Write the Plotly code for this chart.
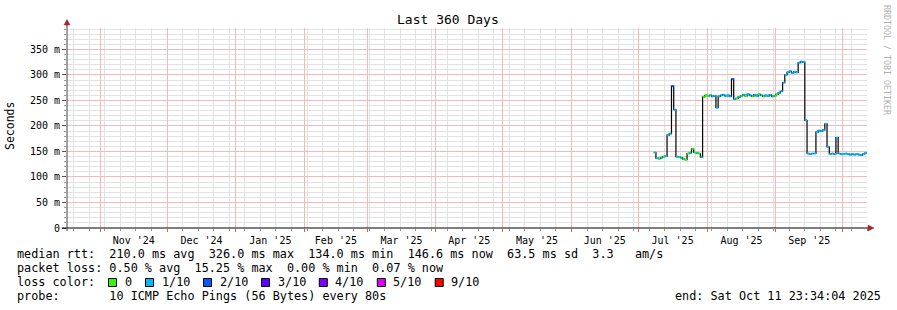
import datetime as dt
import plotly.graph_objects as go

# ---------------- data (median RTT in ms, daily, starting 2025-07-08) -------------
series_start = "2025-07-08"
jul_rtt = [148, 137, 136, 138, 140, 141, 182, 185, 278, 232, 140, 139, 138, 135, 134, 146,
           147, 155, 148, 147, 146, 139, 257, 260]
aug_rtt = [259, 260, 258, 259, 236, 258, 260, 261, 259, 260, 258, 292, 253, 254, 257, 259,
           261, 259, 262, 260, 258, 261, 259, 262, 260, 258, 260, 259, 261, 258, 259]
sep_rtt = [262, 265, 268, 285, 300, 305, 307, 304, 306, 305, 324, 326, 325, 211, 146, 145,
           146, 146, 188, 191, 190, 192, 204, 159, 145, 146, 145, 177, 146, 145]
oct_rtt = [145, 146, 145, 144, 145, 144, 145, 144, 143, 145, 147]

# loss class index per day (0 -> 0 loss, 1 -> 1/10, 2 -> 2/10 ...)
jul_loss = [1, 1, 0, 1, 0, 1, 1, 1, 2, 1, 1, 0, 1, 0, 0, 0, 1, 0, 0, 1, 0, 1, 0, 0]
aug_loss = [0, 1, 1, 1, 1, 1, 1, 1, 1, 1, 1, 2, 1, 0, 1, 0, 1, 0, 1, 1, 0, 1, 1, 0, 1, 0,
            1, 1, 1, 1, 0]
sep_loss = [0] + [1] * 29
oct_loss = [1] * 11

loss_labels = ["0", "1/10", "2/10", "3/10", "4/10", "5/10", "9/10"]
loss_colors = ["#26ff00", "#00b8ff", "#0059ff", "#5e00ff", "#7e00ff", "#dd00ff", "#ff0000"]

y_tick_vals = [0, 0.05, 0.10, 0.15, 0.20, 0.25, 0.30, 0.35]
y_tick_text = ["0", "50 m", "100 m", "150 m", "200 m", "250 m", "300 m", "350 m"]

x_start = "2024-10-16 23:34:04"
x_end = "2025-10-11 23:34:04"

legend_rows = [
    "median rtt:  210.0 ms avg  326.0 ms max  134.0 ms min  146.6 ms now  63.5 ms sd  3.3   am/s",
    "packet loss: 0.50 % avg  15.25 % max  0.00 % min  0.07 % now",
    "loss color:",
    "probe:       10 ICMP Echo Pings (56 Bytes) every 80s",
]
end_text = "end: Sat Oct 11 23:34:04 2025"

# ---------------- build series ----------------
rtt = [v / 1000.0 for v in jul_rtt + aug_rtt + sep_rtt + oct_rtt]
loss = jul_loss + aug_loss + sep_loss + oct_loss
d0 = dt.datetime.fromisoformat(series_start)
days = [d0 + dt.timedelta(days=i) for i in range(len(rtt))]
one = dt.timedelta(days=1)

FONT = "DejaVu Sans Mono"
MGRID = "#f6b8b8"
GRID = "#e2e2e2"

fig = go.Figure()

# black median line
fig.add_trace(go.Scatter(x=days + [days[-1] + one], y=rtt + [rtt[-1]], mode="lines",
                         line=dict(color="black", width=1.2, shape="hv"),
                         hoverinfo="skip"))
# coloured loss segments
for ci, col in enumerate(loss_colors):
    xs, ys = [], []
    for d, v, l in zip(days, rtt, loss):
        if l == ci:
            xs += [d, d + one, None]
            ys += [v, v, None]
    if xs:
        fig.add_trace(go.Scatter(x=xs, y=ys, mode="lines",
                                 line=dict(color=col, width=2), hoverinfo="skip"))

fig.add_trace(go.Scatter(x=[x_start, x_end], y=[None, None], xaxis="x2", mode="lines",
                         hoverinfo="skip", showlegend=False))

# ---------------- geometry helpers (pixel -> paper) ----------------
L, R, T, B = 67, 867, 28, 228
def px(x):
    return (x - L) / (R - L)
def py(y):
    return (B - y) / (B - T)

shapes = []
shapes.append(dict(type="line", xref="paper", yref="paper", x0=px(62), x1=px(869), y0=py(228), y1=py(228),
                   line=dict(color="black", width=1), layer="above"))
shapes.append(dict(type="line", xref="paper", yref="paper", x0=px(67), x1=px(67), y0=py(231), y1=py(24),
                   line=dict(color="#444444", width=1), layer="above"))
def tri(points):
    return "M " + " L ".join(f"{px(a)},{py(b)}" for a, b in points) + " Z"
shapes.append(dict(type="path", xref="paper", yref="paper", path=tri([(868, 225), (874, 228), (868, 231)]),
                   fillcolor="#9e2a2a", line=dict(color="#9e2a2a", width=0.5), layer="above"))
shapes.append(dict(type="path", xref="paper", yref="paper", path=tri([(64, 25), (67, 19.5), (70, 25)]),
                   fillcolor="#9e2a2a", line=dict(color="#9e2a2a", width=0.5), layer="above"))

annotations = []
annotations.append(dict(text="Last 360 Days", xref="paper", yref="paper", x=px(448), y=py(19),
                        xanchor="center", yanchor="middle", showarrow=False,
                        font=dict(family=FONT, size=13, color="black")))
annotations.append(dict(text="Seconds", xref="paper", yref="paper", x=px(10), y=py(126),
                        xanchor="center", yanchor="middle", showarrow=False, textangle=-90,
                        font=dict(family=FONT, size=11.5, color="black")))
annotations.append(dict(text="RRDTOOL / TOBI OETIKER", xref="paper", yref="paper", x=px(887), y=py(60),
                        xanchor="center", yanchor="middle", showarrow=False, textangle=90,
                        font=dict(family=FONT, size=8.3, color="#b0b0b0")))

row_y = [254.3, 268.3, 282.3, 296]
for txt, yy in zip(legend_rows, row_y):
    annotations.append(dict(text=txt.replace(" ", "&nbsp;"), xref="paper", yref="paper", x=px(16), y=py(yy),
                            xanchor="left", yanchor="middle", showarrow=False, borderpad=0,
                            font=dict(family=FONT, size=11.8, color="black")))
annotations.append(dict(text=end_text.replace(" ", "&nbsp;"), xref="paper", yref="paper", x=px(882), y=py(296),
                        xanchor="right", yanchor="middle", showarrow=False, borderpad=0,
                        font=dict(family=FONT, size=11.8, color="black")))

box_left = [108.5, 145.5, 203.5, 261.5, 319.3, 377.3, 435.2]
for bl, col, lab in zip(box_left, loss_colors, loss_labels):
    shapes.append(dict(type="rect", xref="paper", yref="paper", x0=px(bl), x1=px(bl + 8),
                       y0=py(278.5), y1=py(286.5), fillcolor=col, line=dict(color="black", width=1)))
    annotations.append(dict(text=lab, xref="paper", yref="paper", x=px(bl + 15), y=py(282.3),
                            xanchor="left", yanchor="middle", showarrow=False, borderpad=0,
                            font=dict(family=FONT, size=11.8, color="black")))

fig.update_layout(
    width=897, height=310,
    margin=dict(l=L, r=897 - R, t=T, b=310 - B),
    paper_bgcolor="white", plot_bgcolor="white",
    showlegend=False,
    font=dict(family=FONT, size=10, color="black"),
    shapes=shapes, annotations=annotations,
    xaxis=dict(type="date", range=[x_start, x_end], tickmode="linear", tick0="2024-10-20",
               dtick=7 * 86400000, showticklabels=False,
               showgrid=True, gridcolor=GRID, gridwidth=1,
               ticks="outside", ticklen=2, tickcolor="#999999", zeroline=False, showline=False),
    xaxis2=dict(type="date", range=[x_start, x_end], overlaying="x", anchor="y", side="bottom",
                tickmode="linear", tick0="2024-11-01", dtick="M1",
                ticklabelmode="period", tickformat="%b '%y",
                showgrid=True, gridcolor=MGRID, gridwidth=1,
                ticks="outside", ticklen=3, tickcolor="#e06060", zeroline=False, showline=False,
                tickfont=dict(family=FONT, size=10, color="black")),
    yaxis=dict(range=[0, 0.392], tickmode="array", tickvals=y_tick_vals, ticktext=y_tick_text,
               showgrid=True, gridcolor=MGRID, gridwidth=1,
               ticks="outside", ticklen=4, tickcolor="#555555", zeroline=False, showline=False,
               tickfont=dict(family=FONT, size=10, color="black"),
               minor=dict(tickmode="linear", tick0=0, dtick=0.01, showgrid=True, gridcolor=GRID,
                          ticks="outside", ticklen=2, tickcolor="#999999")),
)

fig.write_html("out.html")
